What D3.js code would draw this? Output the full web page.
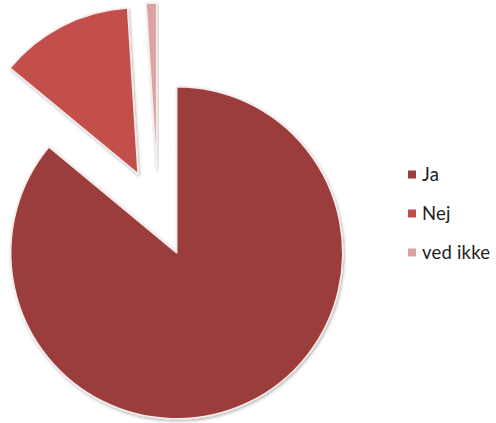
<!DOCTYPE html>
<html>
<head>
<meta charset="utf-8">
<script src="https://cdn.jsdelivr.net/npm/d3@7/dist/d3.min.js"></script>
<style>
  html, body { margin: 0; padding: 0; background: #ffffff; }
  svg { display: block; }
</style>
</head>
<body>
<svg id="chart" width="496" height="423"></svg>
<script>
const categories = ["Ja", "Nej", "ved ikke"];
const values = [86, 13, 1];
const colors = ["#9b3e3c", "#c34f4c", "#dba2a2"];

const W = 496, H = 423;
const cx = 158, cy = 213, radius = 166, explode = 44;

const svg = d3.select("#chart");
const defs = svg.append("defs");
const f = defs.append("filter").attr("id", "shadow")
  .attr("x", "-10%").attr("y", "-10%").attr("width", "130%").attr("height", "130%");
f.append("feDropShadow").attr("dx", 1).attr("dy", 1.5)
  .attr("stdDeviation", 1.5).attr("flood-color", "#000").attr("flood-opacity", 0.3);

const pie = d3.pie().sort(null).value(d => d.v);
const arcs = pie(categories.map((c, i) => ({ c, v: values[i] })));
const arc = d3.arc().innerRadius(0).outerRadius(radius);
const color = d3.scaleOrdinal().domain(categories).range(colors);

const g = svg.append("g").attr("transform", `translate(${cx},${cy})`);
g.selectAll("path").data(arcs).enter().append("path")
  .attr("d", arc)
  .attr("transform", d => {
    const m = (d.startAngle + d.endAngle) / 2;
    return `translate(${Math.sin(m) * explode},${-Math.cos(m) * explode})`;
  })
  .attr("fill", d => color(d.data.c))
  .attr("stroke", "#f6eaea")
  .attr("stroke-width", 1.5)
  .attr("stroke-linejoin", "round")
  .attr("filter", "url(#shadow)");

// legend
const legY = d3.scalePoint().domain(categories).range([174.5, 252.5]);
const leg = svg.append("g");
const item = leg.selectAll("g").data(categories).enter().append("g")
  .attr("transform", d => `translate(408,${legY(d)})`);
item.append("rect").attr("x", 0).attr("y", -4).attr("width", 8).attr("height", 8)
  .attr("fill", d => color(d));
item.append("text").attr("x", 14).attr("y", 6.5)
  .attr("font-family", "Lato, 'Open Sans', sans-serif")
  .attr("font-size", 18.5)
  .attr("letter-spacing", 0.2)
  .attr("fill", "#222")
  .text(d => d);
</script>
</body>
</html>
